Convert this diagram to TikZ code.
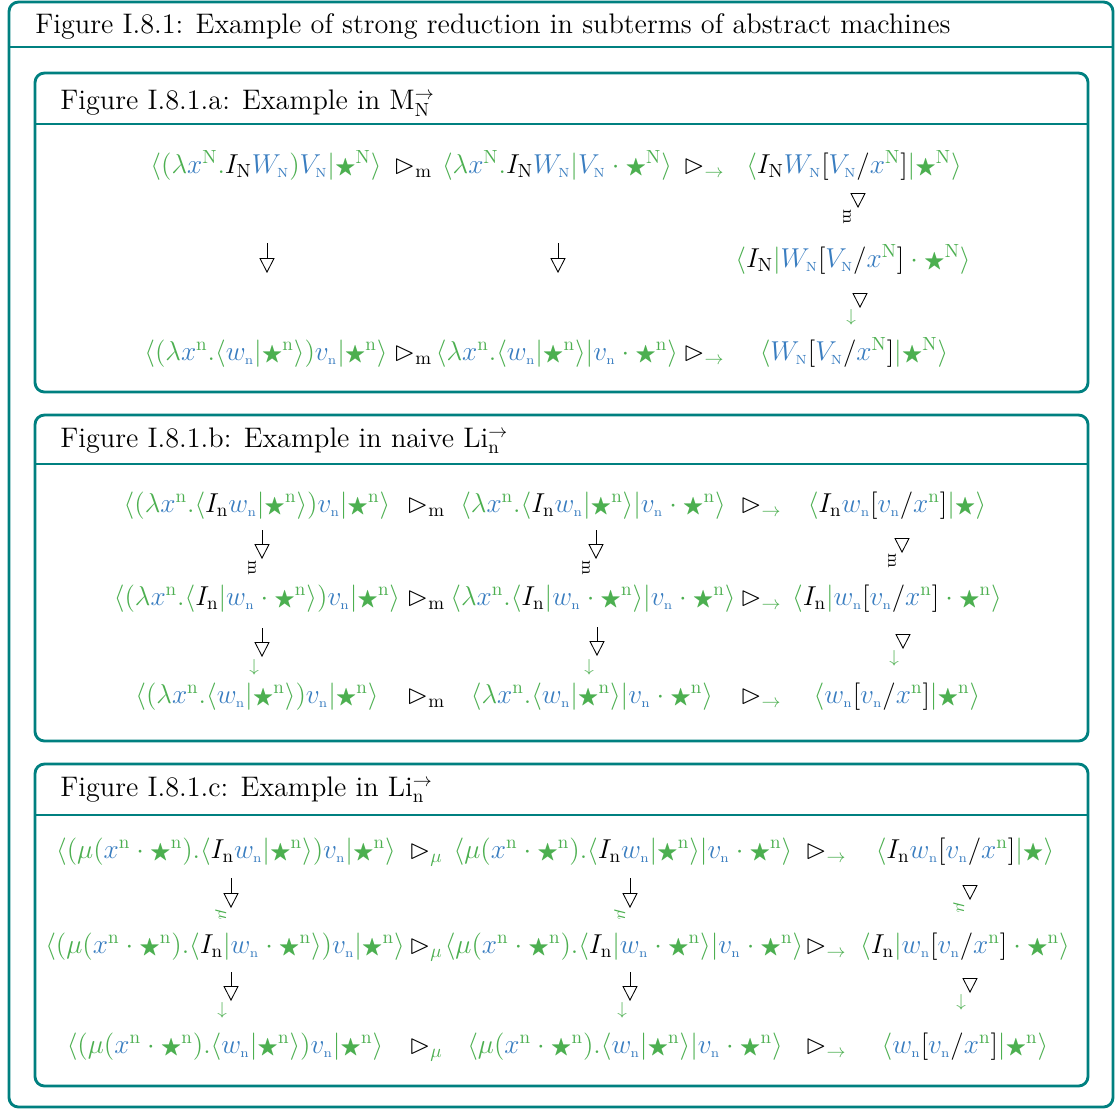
\documentclass[tikz,border=0pt]{standalone}
\usepackage{amsmath}
\usepackage{amsfonts, amssymb}
\usepackage{tikz}
\usetikzlibrary{arrows.meta}

\definecolor{frameteal}{RGB}{0,128,128}
\definecolor{ctxgreen}{RGB}{76,175,80}
\definecolor{termblue}{RGB}{57,125,192}

% colour helpers for the machine states
\newcommand{\grn}[1]{{\color{ctxgreen}#1}}
\newcommand{\blu}[1]{{\color{termblue}#1}}
\newcommand{\gla}{\grn{\langle}}
\newcommand{\gra}{\grn{\rangle}}
\newcommand{\gbar}{\grn{|}}
\newcommand{\gdot}{\mathbin{\grn{\cdot}}}
\newcommand{\bstar}{\mathord{\scalebox{0.8}{$\bigstar$}}}
\newcommand{\redtri}{\mathord{\rhd}}
\newcommand{\xxN}{\blu{x}^{\grn{\mathrm{N}}}}
\newcommand{\xxn}{\blu{x}^{\grn{\mathrm{n}}}}
\newcommand{\trW}{\blu{W_{\scriptscriptstyle\mathrm{N}}}}
\newcommand{\trV}{\blu{V_{\scriptscriptstyle\mathrm{N}}}}
\newcommand{\trw}{\blu{w_{\scriptscriptstyle\mathrm{n}}}}
\newcommand{\trv}{\blu{v_{\scriptscriptstyle\mathrm{n}}}}
\newcommand{\stN}{\grn{\bstar^{\mathrm{N}}}}
\newcommand{\stn}{\grn{\bstar^{\mathrm{n}}}}
\newcommand{\stO}{\grn{\bstar}}

\begin{document}
\begin{tikzpicture}[x=0.527pt, y=-0.527pt, font=\Large,
    boxframe/.style={draw=frameteal, line width=1.5pt, rounded corners=5pt},
    hdrule/.style={draw=frameteal, line width=1.5pt},
    boxtitle/.style={anchor=base west, inner sep=0pt, font=\fontsize{14.9}{18}\selectfont},
    term/.style={anchor=base, inner sep=0pt},
    redsym/.style={anchor=base, inner sep=0pt},
    sred/.style={-{Triangle[open, length=7.9pt, width=8pt]}, line width=0.45pt},
    redlab/.style={rotate=-90, font=\small, inner sep=0pt}]

    \useasboundingbox (0,0) rectangle (1117,1110);

    % --- Outer frame ---
    \draw[boxframe] (9,2) rectangle (1113,1107);
    \draw[hdrule] (9,47) -- (1113,47);
    \node[boxtitle] (title) at (35,33) {Figure I.8.1: Example of strong reduction in subterms of abstract machines};

    % --- Sub-figure frames ---
    \foreach \ya/\yh/\yb in {73/124/392, 415/464/741, 764/815/1086} {
      \draw[boxframe] (35,\ya) rectangle (1088,\yb);
      \draw[hdrule] (35,\yh) -- (1088,\yh);
    }
    \node[boxtitle] (tita) at (60,109) {Figure I.8.1.a: Example in M$^{\rightarrow}_{\mathrm{N}}$};
    \node[boxtitle] (titb) at (60,447) {Figure I.8.1.b: Example in naive Li$^{\rightarrow}_{\mathrm{n}}$};
    \node[boxtitle] (titc) at (60,796) {Figure I.8.1.c: Example in Li$^{\rightarrow}_{\mathrm{n}}$};

    % --- (a) machine states ---
    \node[term] (a11) at (266,173) {$\gla\grn{(\lambda}\xxN\grn{.}I_{\mathrm{N}}\trW\grn{)}\trV\gbar\stN\gra$};
    \node[term] (a12) at (557,173) {$\gla\grn{\lambda}\xxN\grn{.}I_{\mathrm{N}}\trW\gbar\trV\gdot\stN\gra$};
    \node[term] (a13) at (854,173) {$\gla I_{\mathrm{N}}\trW[\trV/\xxN]\gbar\stN\gra$};
    \node[term] (a23) at (853,267) {$\gla I_{\mathrm{N}}\gbar\trW[\trV/\xxN]\gdot\stN\gra$};
    \node[term] (a31) at (266,360) {$\gla\grn{(\lambda}\xxn\grn{.}\gla\trw\gbar\stn\gra\grn{)}\trv\gbar\stn\gra$};
    \node[term] (a32) at (557,360) {$\gla\grn{\lambda}\xxn\grn{.}\gla\trw\gbar\stn\gra\gbar\trv\gdot\stn\gra$};
    \node[term] (a33) at (854,360) {$\gla\trW[\trV/\xxN]\gbar\stN\gra$};
    \foreach \r/\y in {1/173, 3/360} {
      \node[redsym] (a\r m) at (413,\y) {$\redtri_{\mathrm{m}}$};
      \node[redsym] (a\r s) at (704,\y) {$\redtri_{\grn{\rightarrow}}$};
    }

    % --- (b) machine states ---
    \node[term] (b11) at (257,512) {$\gla\grn{(\lambda}\xxn\grn{.}\gla I_{\mathrm{n}}\trw\gbar\stn\gra\grn{)}\trv\gbar\stn\gra$};
    \node[term] (b12) at (593,512) {$\gla\grn{\lambda}\xxn\grn{.}\gla I_{\mathrm{n}}\trw\gbar\stn\gra\gbar\trv\gdot\stn\gra$};
    \node[term] (b13) at (897,512) {$\gla I_{\mathrm{n}}\trw[\trv/\xxn]\gbar\stO\gra$};
    \node[term] (b21) at (257,605) {$\gla\grn{(\lambda}\xxn\grn{.}\gla I_{\mathrm{n}}\gbar\trw\gdot\stn\gra\grn{)}\trv\gbar\stn\gra$};
    \node[term] (b22) at (593,605) {$\gla\grn{\lambda}\xxn\grn{.}\gla I_{\mathrm{n}}\gbar\trw\gdot\stn\gra\gbar\trv\gdot\stn\gra$};
    \node[term] (b23) at (897,605) {$\gla I_{\mathrm{n}}\gbar\trw[\trv/\xxn]\gdot\stn\gra$};
    \node[term] (b31) at (257,703) {$\gla\grn{(\lambda}\xxn\grn{.}\gla\trw\gbar\stn\gra\grn{)}\trv\gbar\stn\gra$};
    \node[term] (b32) at (592,703) {$\gla\grn{\lambda}\xxn\grn{.}\gla\trw\gbar\stn\gra\gbar\trv\gdot\stn\gra$};
    \node[term] (b33) at (897,703) {$\gla\trw[\trv/\xxn]\gbar\stn\gra$};
    \foreach \r/\y in {1/512, 2/605, 3/703} {
      \node[redsym] (b\r m) at (426,\y) {$\redtri_{\mathrm{m}}$};
      \node[redsym] (b\r s) at (761,\y) {$\redtri_{\grn{\rightarrow}}$};
    }

    % --- (c) machine states ---
    \node[term] (c11) at (226,858) {$\gla\grn{(\mu(}\xxn\gdot\stn\grn{).}\gla I_{\mathrm{n}}\trw\gbar\stn\gra\grn{)}\trv\gbar\stn\gra$};
    \node[term] (c12) at (623,858) {$\gla\grn{\mu(}\xxn\gdot\stn\grn{).}\gla I_{\mathrm{n}}\trw\gbar\stn\gra\gbar\trv\gdot\stn\gra$};
    \node[term] (c13) at (965,858) {$\gla I_{\mathrm{n}}\trw[\trv/\xxn]\gbar\stO\gra$};
    \node[term] (c21) at (225,953) {$\gla\grn{(\mu(}\xxn\gdot\stn\grn{).}\gla I_{\mathrm{n}}\gbar\trw\gdot\stn\gra\grn{)}\trv\gbar\stn\gra$};
    \node[term] (c22) at (624,953) {$\gla\grn{\mu(}\xxn\gdot\stn\grn{).}\gla I_{\mathrm{n}}\gbar\trw\gdot\stn\gra\gbar\trv\gdot\stn\gra$};
    \node[term] (c23) at (965,953) {$\gla I_{\mathrm{n}}\gbar\trw[\trv/\xxn]\gdot\stn\gra$};
    \node[term] (c31) at (225,1053) {$\gla\grn{(\mu(}\xxn\gdot\stn\grn{).}\gla\trw\gbar\stn\gra\grn{)}\trv\gbar\stn\gra$};
    \node[term] (c32) at (625,1053) {$\gla\grn{\mu(}\xxn\gdot\stn\grn{).}\gla\trw\gbar\stn\gra\gbar\trv\gdot\stn\gra$};
    \node[term] (c33) at (965,1053) {$\gla\trw[\trv/\xxn]\gbar\stn\gra$};
    \foreach \r/\y in {1/858, 2/953, 3/1053} {
      \node[redsym] (c\r m) at (426,\y) {$\redtri_{\grn{\mu}}$};
      \node[redsym] (c\r s) at (826,\y) {$\redtri_{\grn{\rightarrow}}$};
    }

    % --- Vertical reductions ---
    % plain ones in (a)
    \foreach \n/\x in {ad1/267, ad2/558} {
      \coordinate (\n-s) at (\x,243);
      \coordinate (\n-e) at (\x,273);
      \draw[sred] (\n-s) -- (\n-e);
    }
    % labelled ones (short = triangle only)
    \foreach \n/\x/\ya/\yb/\lx/\ly/\lab in {
        a1d3/858/193/208/847/217/{$\mathrm{m}$},
        a2d3/860/293/308/850/317/{$\grn{\rightarrow}$},
        b1d1/262/530/559/252/568/{$\mathrm{m}$},
        b1d2/596/530/559/586/568/{$\mathrm{m}$},
        b1d3/902/538/553/892/561/{$\mathrm{m}$},
        b2d1/262/628/657/253/667/{$\grn{\rightarrow}$},
        b2d2/597/627/656/588/667/{$\grn{\rightarrow}$},
        b2d3/903/634/649/893/658/{$\grn{\rightarrow}$},
        c1d1/231/878/908/221/915/{$\grn{\mu}$},
        c1d2/630/878/908/620/915/{$\grn{\mu}$},
        c1d3/970/885/900/959/908/{$\grn{\mu}$},
        c2d1/231/972/1001/221/1010/{$\grn{\rightarrow}$},
        c2d2/630/972/1001/621/1010/{$\grn{\rightarrow}$},
        c2d3/970/978/993/960/1002/{$\grn{\rightarrow}$}} {
      \coordinate (\n-s) at (\x,\ya);
      \coordinate (\n-e) at (\x,\yb);
      \draw[sred] (\n-s) -- (\n-e);
      \node[redlab] (\n-l) at (\lx,\ly) {\lab};
    }

\end{tikzpicture}
\end{document}
